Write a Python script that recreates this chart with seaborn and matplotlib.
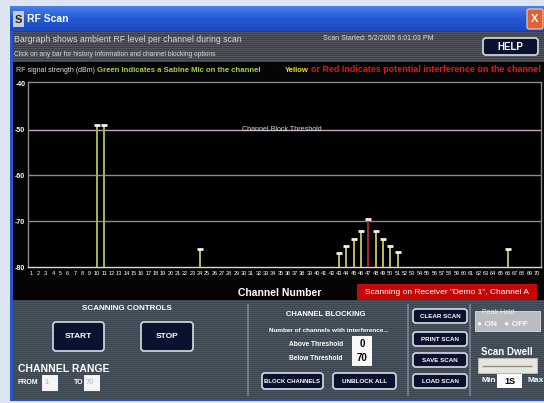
import numpy as np
import pandas as pd
import matplotlib
matplotlib.use("Agg")
import matplotlib.pyplot as plt
import seaborn as sns
from matplotlib import font_manager
from matplotlib.patches import Rectangle, FancyBboxPatch
from matplotlib.colors import LinearSegmentedColormap

channels = list(range(1, 71))
levels = [
    -80, -80, -80, -80, -80, -80, -80, -80, -80, -49,
    -49, -80, -80, -80, -80, -80, -80, -80, -80, -80,
    -80, -80, -80, -76, -80, -80, -80, -80, -80, -80,
    -80, -80, -80, -80, -80, -80, -80, -80, -80, -80,
    -80, -80, -76.9, -75.4, -73.8, -72.1, -69.6, -72.2, -73.8, -75.4,
    -76.7, -80, -80, -80, -80, -80, -80, -80, -80, -80,
    -80, -80, -80, -80, -80, -76, -80, -80, -80, -80,
]
mic_channels = [10, 11]
red_channels = [47]
y_ticks = [-40, -50, -60, -70, -80]
threshold = -50

W, H = 544, 403

sns.set_theme(style="dark")
names = {f.name for f in font_manager.fontManager.ttflist}
narrow = "Liberation Sans Narrow" if "Liberation Sans Narrow" in names else "Liberation Sans"
plt.rcParams["font.family"] = [narrow, "DejaVu Sans"]

status = []
for ch in channels:
    if ch in mic_channels:
        status.append("mic")
    elif ch in red_channels:
        status.append("red")
    else:
        status.append("yellow")
df = pd.DataFrame({"channel": channels, "level": levels, "status": status})
df["height"] = df["level"] - y_ticks[-1]

fig = plt.figure(figsize=(W / 100, H / 100), dpi=100)
fig.patch.set_facecolor("#dce5f0")

# ---- window chrome drawn in pixel coords
bg = fig.add_axes([0, 0, 1, 1])
bg.set_xlim(0, W)
bg.set_ylim(H, 0)
bg.axis("off")


def box(x0, y0, x1, y1, fc, ec="none", lw=0, z=1, round_=0):
    if round_:
        p = FancyBboxPatch((x0, y0), x1 - x0, y1 - y0,
                           boxstyle=f"round,pad=0,rounding_size={round_}",
                           fc=fc, ec=ec, lw=lw, zorder=z)
    else:
        p = Rectangle((x0, y0), x1 - x0, y1 - y0, fc=fc, ec=ec, lw=lw, zorder=z)
    bg.add_patch(p)


def txt(x, y, s, size=6, color="white", ha="left", weight="normal", z=5):
    bg.text(x, y, s, fontsize=size, color=color, ha=ha, va="center",
            fontweight=weight, zorder=z)


def button(x0, y0, x1, y1, label, size=5.5):
    box(x0, y0, x1, y1, "#0a1230", ec="#c9d0d8", lw=1.3, z=4, round_=3)
    txt((x0 + x1) / 2, (y0 + y1) / 2 + 0.5, label, size=size, ha="center", weight="bold", z=6)


# window frame
box(10, 6, W, 401, "#2a55c8", z=0)
grad = LinearSegmentedColormap.from_list("tb", ["#4a7fe8", "#2458d4", "#1d4bbd"])
bg.imshow(np.linspace(0, 1, 50).reshape(-1, 1), cmap=grad, aspect="auto",
          extent=[10, W, 31, 6], zorder=1)
box(13, 11, 24, 27, "#c8ccd4", z=2)
txt(18.5, 20, "S", size=8, color="#202020", ha="center", weight="bold", z=3)
txt(27, 19, "RF Scan", size=7.5, weight="bold")
box(527, 9, 543, 29, "#e06030", ec="#f0d0c0", lw=0.8, z=3, round_=2)
txt(535, 19, "X", size=8, ha="center", weight="bold")

# header strip
box(13, 31, W, 62, "#3b3f45", z=1)
bg.hlines(np.arange(32, 62, 2), 13, W, color="#595d63", lw=0.6, zorder=1.5)
txt(14, 40, "Bargraph shows ambient RF level per channel during scan", size=6.3, color="#d8d8d8")
txt(14, 54, "Click on any bar for history information and channel blocking options", size=4.8, color="#d8d8d8")
txt(323, 38, "Scan Started: 5/2/2005 6:01:03 PM", size=5.0, color="#e0e0e0")
button(483, 38, 538, 55, "HELP", size=7)

# black chart region
box(13, 62, W, 300, "#050505", z=1)
txt(16, 70, "RF signal strength (dBm)", size=5.0, color="#e0e0e0")
txt(97, 70, "Green Indicates a Sabine Mic on the channel", size=5.6, color="#a6d03a", weight="bold")
txt(285, 70, "Yellow", size=5.6, color="#f0e020", weight="bold")
txt(311, 70, "or Red Indicates potential interference on the channel", size=6.4, color="#e01818", weight="bold")
txt(280, 293, "Channel Number", size=7.5, ha="center", weight="bold")
box(357, 284, 537, 300, "#c40808", z=2)
txt(447, 292, 'Scanning on Receiver "Demo 1", Channel A', size=6, ha="center")

# control panel
box(13, 300, W, 400, "#3c4651", z=1)
bg.hlines(np.arange(301, 400, 2), 13, W, color="#4e5864", lw=0.6, zorder=1.5)
for gx in (248, 408, 470):
    bg.vlines(gx, 304, 396, color="#7a848e", lw=1.2, zorder=2)

txt(127, 308, "SCANNING CONTROLS", size=5.8, ha="center", weight="bold")
button(53, 322, 104, 351, "START", size=6)
button(141, 322, 193, 351, "STOP", size=6)
txt(18, 369, "CHANNEL RANGE", size=7.5, weight="bold")
txt(18, 383, "FROM", size=5.0, weight="bold")
box(42, 375, 58, 391, "#f4f4f4", z=3)
txt(44, 383, "1", size=5.5, color="#b0b0b0")
txt(74, 383, "TO", size=5.0, weight="bold")
box(84, 375, 100, 391, "#f4f4f4", z=3)
txt(86, 383, "70", size=5.5, color="#b0b0b0")

txt(326, 314, "CHANNEL BLOCKING", size=5.5, ha="center", weight="bold")
txt(329, 330, "Number of channels with interference...", size=4.6, ha="center", weight="bold")
txt(316, 344, "Above Threshold", size=4.8, ha="center", weight="bold")
box(352, 336, 372, 352, "#f8f8f8", z=3)
txt(362, 344, "0", size=7, color="black", ha="center", weight="bold")
txt(316, 358, "Below Threshold", size=4.8, ha="center", weight="bold")
box(352, 351, 372, 366, "#f8f8f8", z=3)
txt(362, 358, "70", size=7, color="black", ha="center", weight="bold")
button(262, 373, 323, 389, "BLOCK CHANNELS", size=4.3)
button(333, 373, 396, 389, "UNBLOCK ALL", size=4.6)

button(413, 309, 467, 323, "CLEAR SCAN", size=4.5)
button(413, 332, 467, 346, "PRINT SCAN", size=4.5)
button(413, 353, 467, 367, "SAVE SCAN", size=4.5)
button(413, 374, 467, 388, "LOAD SCAN", size=4.5)

box(475, 311, 540, 331, "#b8bcc2", ec="#e0e0e0", lw=0.6, z=3)
txt(482, 313, "Peak Hold", size=5, color="#f0f0f0")
txt(477, 325, "\u25cf ON   \u25cf OFF", size=6, color="#f8f8f8", weight="bold")
txt(507, 352, "Scan Dwell", size=7, ha="center", weight="bold")
box(478, 358, 537, 373, "#e6e6de", ec="#c0c0b8", lw=0.6, z=3)
bg.hlines(366, 482, 532, color="#909088", lw=1.0, zorder=4)
txt(482, 381, "Min", size=6, weight="bold")
txt(528, 381, "Max", size=6, weight="bold")
box(497, 374, 522, 388, "#fafafa", z=3)
txt(509.5, 381, "1S", size=6.5, color="black", ha="center", weight="bold")

# ---- the bargraph itself
ax = fig.add_axes([28 / W, (H - 267) / H, (541 - 28) / W, (267 - 82) / H])
ax.set_facecolor("#000000")
palette = {"mic": "#a4c244", "yellow": "#c8c04c", "red": "#b81020"}
sns.barplot(data=df, x="channel", y="height", hue="status", palette=palette,
            native_scale=True, dodge=False, width=0.3, legend=False,
            bottom=y_ticks[-1], ax=ax, zorder=3, linewidth=0)

hit = df[df["level"] > y_ticks[-1]]
ax.plot(hit["channel"], hit["level"], ls="none", marker="_", ms=4.5, mew=2,
        color="#f4f4e8", zorder=4)

for yv in y_ticks[1:-1]:
    col = "#c8a8c8" if yv == threshold else "#8c8c8c"
    ax.axhline(yv, color=col, lw=1.0, zorder=1)
ax.text(0.495, threshold, "Channel Block Threshold", transform=ax.get_yaxis_transform(),
        ha="center", va="center", fontsize=5.1, color="#d8d8d8", zorder=2)

ax.set_xlim(0.59, 70.55)
ax.set_ylim(y_ticks[-1], -39.6)
ax.set_yticks(y_ticks)
ax.set_yticklabels([str(v) for v in y_ticks], fontsize=5, color="white", fontweight="bold")
ax.set_xticks(channels)
ax.set_xticklabels([str(c) for c in channels], fontsize=4, color="white")
ax.tick_params(axis="x", direction="in", length=2, width=0.6, color="#d0d0d0", pad=3)
ax.tick_params(axis="y", length=0, pad=2)
ax.set_xlabel("")
ax.set_ylabel("")
ax.grid(False)
for side, sp in ax.spines.items():
    sp.set_visible(True)
    sp.set_color("#d8d8d8" if side == "bottom" else "#8a8a8a")
    sp.set_linewidth(1.0)

fig.savefig("out.png", dpi=100, facecolor=fig.get_facecolor())
